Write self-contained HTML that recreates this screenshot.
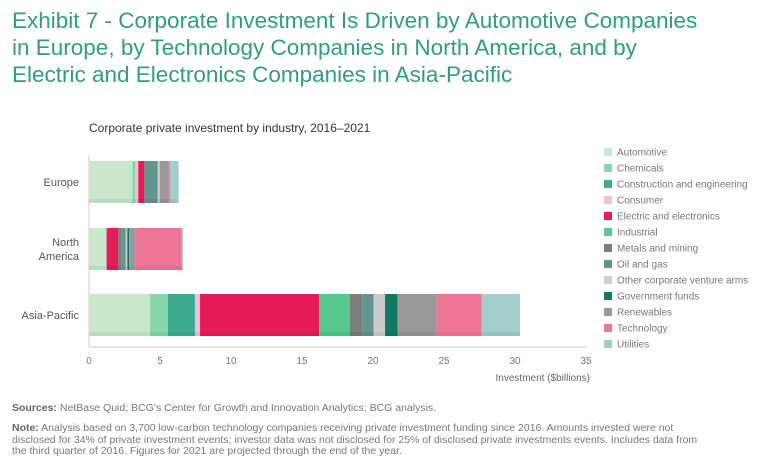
<!DOCTYPE html>
<html><head><meta charset="utf-8"><style>
body{margin:0;width:768px;height:474px;background:#fff;font-family:"Liberation Sans",sans-serif;overflow:hidden;position:relative}
.title{position:absolute;left:12px;top:7px;font-size:22.5px;line-height:27px;color:#2f9e7f}
.sub{position:absolute;left:89px;top:121px;font-size:12px;color:#333}
.foot{position:absolute;left:12px;font-size:10.5px;color:#777;line-height:11.5px;width:748px}
.foot b{color:#666}
</style></head><body>
<div class="title">Exhibit 7 - Corporate Investment Is Driven by Automotive Companies<br>in Europe, by Technology Companies in North America, and by<br>Electric and Electronics Companies in Asia-Pacific</div>
<div class="sub">Corporate private investment by industry, 2016–2021</div>
<svg id="chart" width="768" height="474" style="position:absolute;left:0;top:0"></svg>
<div class="foot" style="top:403px"><b>Sources:</b> NetBase Quid; BCG’s Center for Growth and Innovation Analytics; BCG analysis.</div>
<div class="foot" style="top:423px"><b>Note:</b> Analysis based on 3,700 low-carbon technology companies receiving private investment funding since 2016. Amounts invested were not<br>disclosed for 34% of private investment events; investor data was not disclosed for 25% of disclosed private investments events. Includes data from<br>the third quarter of 2016. Figures for 2021 are projected through the end of the year.</div>
<script>
const regions=["Europe","North\nAmerica","Asia-Pacific"];
const industries=["Automotive","Chemicals","Construction and engineering","Consumer","Electric and electronics","Industrial","Metals and mining","Oil and gas","Other corporate venture arms","Government funds","Renewables","Technology","Utilities"];
const europe=[3.05,0.19,0,0.23,0.43,0,0,0.94,0.14,0,0.61,0.11,0.61];
const northAmerica=[1.24,0,0,0,0.82,0,0.2,0.32,0.12,0.12,0.47,3.24,0.1];
const asiaPacific=[4.3,1.26,1.9,0.36,8.38,2.18,0.87,0.8,0.8,0.89,2.74,3.17,2.7];
const ticks=[0,5,10,15,20,25,30,35];
const colors=["#c9e7cb","#86d6a9","#3dab8d","#efc3d1","#e51c58","#57c98f","#7c7c7c","#62958f","#cccccc","#117a65","#999999","#ef7597","#a2cdc8"];
const svg=document.getElementById('chart');const NS="http://www.w3.org/2000/svg";
function el(t,a){const e=document.createElementNS(NS,t);for(const k in a)e.setAttribute(k,a[k]);svg.appendChild(e);return e;}
const x0=89,pxPer=14.2;const xs=v=>x0+v*pxPer;
const rowY=[161,228,294],bh=42;
const series=[europe,northAmerica,asiaPacific];
let a=el('line',{x1:x0,y1:155,x2:x0,y2:347,stroke:'#ccc'});

a=el('line',{x1:x0,y1:347,x2:xs(35),y2:347,stroke:'#ccc'});

ticks.forEach(t=>{const tx=el('text',{x:xs(t),y:364,'font-size':10,fill:'#777','text-anchor':'middle'});tx.textContent=t;
});
const xt=el('text',{x:590,y:381,'font-size':10,fill:'#666','text-anchor':'end'});xt.textContent='Investment ($billions)';

series.forEach((s,r)=>{let acc=0;
 s.forEach((v,i)=>{if(v>0){const b=el('rect',{x:xs(acc),y:rowY[r],width:v*pxPer,height:bh,fill:colors[i]});
 }acc+=v;});
 const sh=el('rect',{x:x0,y:rowY[r]+bh-4,width:acc*pxPer,height:4,fill:'rgba(0,0,0,0.06)'});
 
 const lines=regions[r].split('\n');const cy=rowY[r]+bh/2;
 lines.forEach((ln,j)=>{const t=el('text',{x:79,y:cy+4+(j-(lines.length-1)/2)*14,'font-size':11,fill:'#555','text-anchor':'end'});t.textContent=ln;
 });
});
industries.forEach((n,i)=>{const y=152+i*16;
 const sq=el('rect',{x:604,y:y-4,width:8,height:8,fill:colors[i]});
 
 const t=el('text',{x:617,y:y+3.5,'font-size':10,fill:'#777'});t.textContent=n;
 });
</script>
</body></html>
